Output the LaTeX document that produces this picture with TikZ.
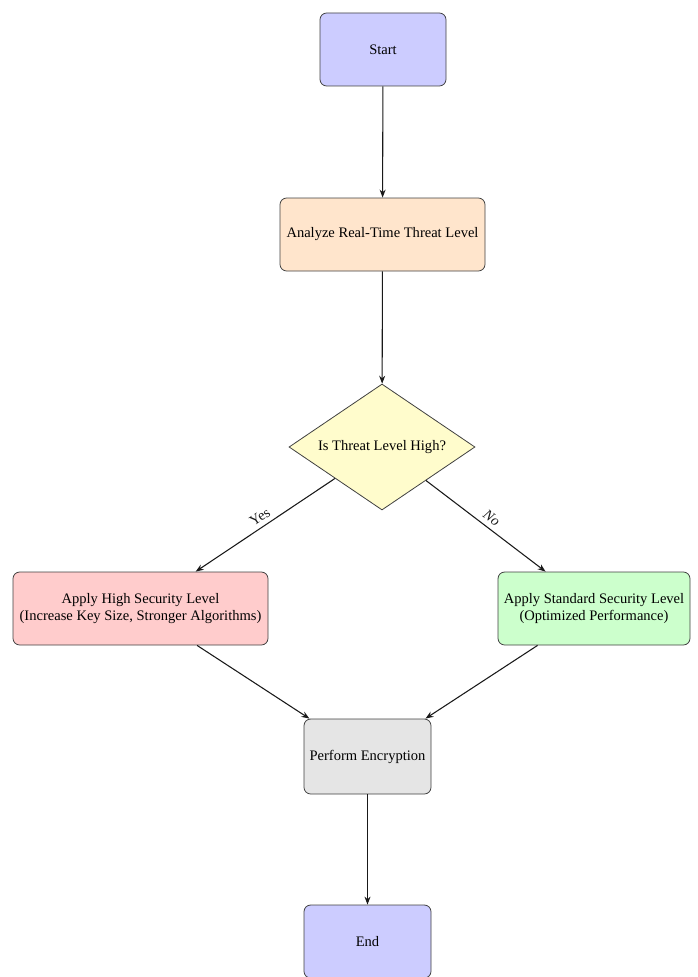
\documentclass[tikz,border=0pt]{standalone}
\usepackage{fontspec}
\setmainfont{Liberation Serif}
\usetikzlibrary{shapes.geometric,arrows.meta}

\tikzset{
  txt/.style={font=\fontsize{10.9}{13}\selectfont},
  box/.style={rectangle, rounded corners=5pt, draw=black!75, line width=0.6pt,
              minimum height=54.75pt, align=center, inner sep=2pt, txt},
  decision/.style={diamond, draw=black!75, line width=0.6pt, fill=yellow!20,
              minimum width=139.5pt, minimum height=94.5pt, aspect=1.5, inner sep=0pt, txt},
  flow/.style={-{Stealth[length=6pt,width=4.5pt]}, line width=0.8pt, black!90},
  branch/.style={sloped, above, txt}
}

\begin{document}
\begin{tikzpicture}[x=0.75pt,y=-0.75pt]
  \useasboundingbox (0,0) rectangle (697,977);

  % process steps
  \node[box, fill=blue!20, minimum width=94.5pt] (start) at (383,49.5) {Start};
  \node[box, fill=orange!20, minimum width=153.75pt] (analyze) at (382.5,234.5) {Analyze Real-Time Threat Level};
  \node[decision] (check) at (382,447) {Is Threat Level High?};
  \node[box, fill=red!20, minimum width=191.25pt] (high) at (140.5,608.5)
       {Apply High Security Level\\(Increase Key Size, Stronger Algorithms)};
  \node[box, fill=green!20, minimum width=144pt] (standard) at (594,608.5)
       {Apply Standard Security Level\\(Optimized Performance)};
  \node[box, fill=gray!20, minimum width=95.25pt, minimum height=56.25pt] (encrypt) at (367.5,756.5) {Perform Encryption};
  \node[box, fill=blue!20, minimum width=95.25pt] (finish) at (367.5,941.5) {End};

  % connectors
  \draw[flow] (start) -- (analyze);
  \draw[flow] (analyze) -- (check);
  \draw[flow] (check) -- node[branch] {Yes} (high);
  \draw[flow] (check) -- node[branch] {\textit{No}} (standard);
  \draw[flow] (high) -- (encrypt);
  \draw[flow] (standard) -- (encrypt);
  \draw[flow] (encrypt) -- (finish);
\end{tikzpicture}
\end{document}
